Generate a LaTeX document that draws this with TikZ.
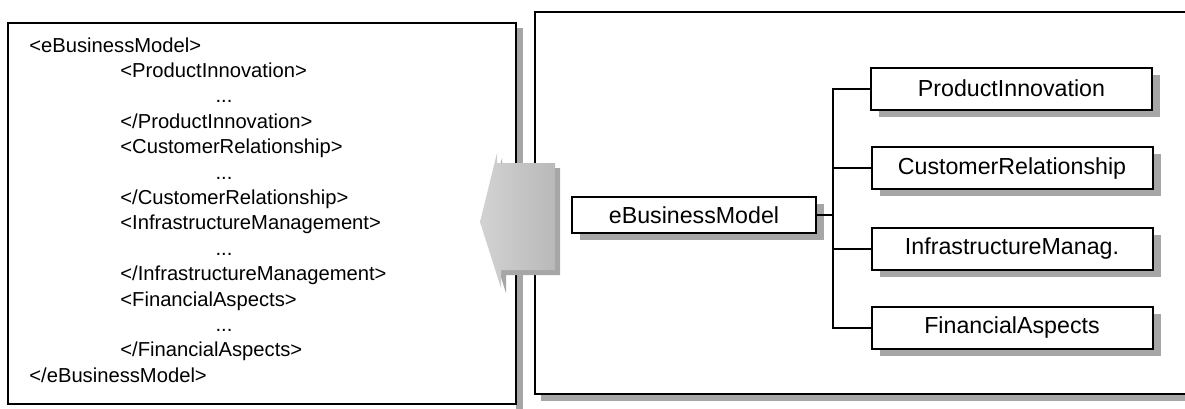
\documentclass[tikz,border=0pt]{standalone}
\usepackage{fontspec}
\setmainfont{Liberation Sans}
\usetikzlibrary{shadows}
\tikzset{
  every picture/.style={line join=miter},
  frame/.style={draw=black, line width=1pt},
  shadowgray/.style={fill=gray!70},
  tagline/.style={anchor=base west, inner sep=0pt, font=\fontsize{10.1}{12}\selectfont},
  tagdots/.style={anchor=base, inner sep=0pt, font=\fontsize{10.1}{12}\selectfont},
  treebox/.style={draw, fill=white, line width=1pt, inner sep=0pt,
    minimum width=140.5pt, minimum height=21pt, font=\fontsize{11.6}{14}\selectfont,
    general shadow={fill=gray!70, shadow xshift=4pt, shadow yshift=-3.5pt}},
  branch/.style={line width=1pt},
}

\begin{document}
\begin{tikzpicture}[x=0.5pt,y=-0.5pt]
\useasboundingbox (0,0) rectangle (1185,408);
% xml listing on the left
\fill[shadowgray] (516,28) rectangle (523,412);
\draw[frame,fill=white] (8,23) rectangle (516,404);
\draw (29,52) node[tagline] (ebmopen) {<eBusinessModel>}
(120,77.4) node[tagline] (piopen) {<ProductInnovation>}
(224,102.8) node[tagdots] (pidots) {...}
(120,128.2) node[tagline] (piclose) {</ProductInnovation>}
(120,153.6) node[tagline] (cropen) {<CustomerRelationship>}
(224,179) node[tagdots] (crdots) {...}
(120,204.4) node[tagline] (crclose) {</CustomerRelationship>}
(120,229.8) node[tagline] (imopen) {<InfrastructureManagement>}
(224,255.2) node[tagdots] (imdots) {...}
(120,280.6) node[tagline] (imclose) {</InfrastructureManagement>}
(120,306) node[tagline] (faopen) {<FinancialAspects>}
(224,331.4) node[tagdots] (fadots) {...}
(120,356.8) node[tagline] (faclose) {</FinancialAspects>}
(29,382.2) node[tagline] (ebmclose) {</eBusinessModel>};

% frame on the right
\fill[shadowgray] (541,394) rectangle (1190,401);
\draw[line width=0.8pt] (1190,12) -- (535,12) -- (535,394) -- (1190,394);

% big grey arrow
\fill[shadowgray] (560,168) -- (502,168) -- (502,158) -- (485,227) -- (506,293) -- (506,275) -- (560,275) -- cycle;
\shade[left color=gray!35,right color=gray!55] (555,163) -- (497,163) -- (497,153) -- (480,222) -- (501,288) -- (501,270) -- (555,270) -- cycle;

% tree
\node[treebox,minimum width=122pt,minimum height=18pt] (ebm) at (694,215) {eBusinessModel};
\node[treebox] (pi) at (1011.5,88.5) {ProductInnovation};
\node[treebox] (cr) at (1012,168) {CustomerRelationship};
\node[treebox] (im) at (1012,248.5) {InfrastructureManag.};
\node[treebox] (fa) at (1012,327.5) {FinancialAspects};
\coordinate (fork) at (833,215);
\draw[branch] (ebm.east) -- (fork);
\draw[branch] (fork) |- (pi.west);
\draw[branch] (fork) |- (cr.west);
\draw[branch] (fork) |- (im.west);
\draw[branch] (fork) |- (fa.west);
\end{tikzpicture}
\end{document}
